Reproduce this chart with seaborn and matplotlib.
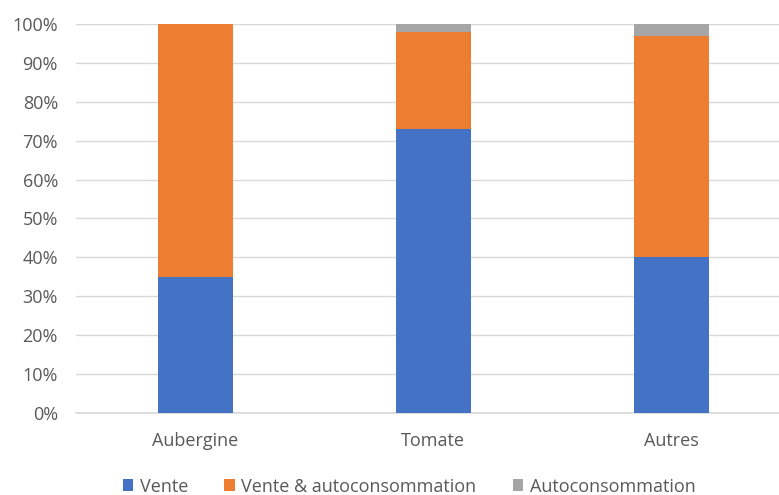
import matplotlib
matplotlib.use("Agg")
import matplotlib.pyplot as plt
import seaborn as sns
import pandas as pd
import numpy as np
from matplotlib.ticker import PercentFormatter
from matplotlib.patches import Patch

categories = ["Aubergine", "Tomate", "Autres"]
vente = [35, 73, 40]
vente_auto = [65, 25, 57]
auto = [0, 2, 3]
series_names = ["Vente", "Vente & autoconsommation", "Autoconsommation"]
colors = ["#4472C4", "#ED7D31", "#A5A5A5"]

sns.set_theme(style="white")
plt.rcParams['font.family'] = ['Open Sans', 'DejaVu Sans']

fig = plt.figure(figsize=(7.79, 4.95), dpi=100)
ax = fig.add_axes([0.0975, 0.1657, 0.9175, 0.7858])

df = pd.DataFrame({"cat": categories, "Vente": vente,
                   "VA": np.array(vente) + np.array(vente_auto),
                   "Tot": np.array(vente) + np.array(vente_auto) + np.array(auto)})

w = 0.315
sns.barplot(data=df, x="cat", y="Tot", color=colors[2], width=w, ax=ax, saturation=1, zorder=3)
sns.barplot(data=df, x="cat", y="VA", color=colors[1], width=w, ax=ax, saturation=1, zorder=3)
sns.barplot(data=df, x="cat", y="Vente", color=colors[0], width=w, ax=ax, saturation=1, zorder=3)
for p in ax.patches:
    p.set_linewidth(0)

ax.set_ylim(0, 100)
ax.set_xlim(-0.5, 2.5)
ax.set_yticks(np.arange(0, 101, 10))
ax.yaxis.set_major_formatter(PercentFormatter(decimals=0))
ax.grid(axis="y", color="#D9D9D9", linewidth=1, zorder=0)
ax.set_axisbelow(True)
for s in ["top", "right", "left"]:
    ax.spines[s].set_visible(False)
ax.spines["bottom"].set_color("#D9D9D9")
ax.set_xlabel("")
ax.set_ylabel("")
ax.tick_params(axis="both", length=0, labelsize=13, colors="#595959")
ax.tick_params(axis="y", pad=13)
ax.tick_params(axis="x", pad=14)

handles = [Patch(facecolor=c, edgecolor="none") for c in colors]
fig.legend(handles, series_names, loc="center", ncol=3, frameon=False,
           bbox_to_anchor=(0.525, 0.017), fontsize=13, labelcolor="#595959",
           handlelength=0.6, handleheight=0.6, handletextpad=0.35, columnspacing=2.0)

fig.savefig("out.png", dpi=100, facecolor="white")
